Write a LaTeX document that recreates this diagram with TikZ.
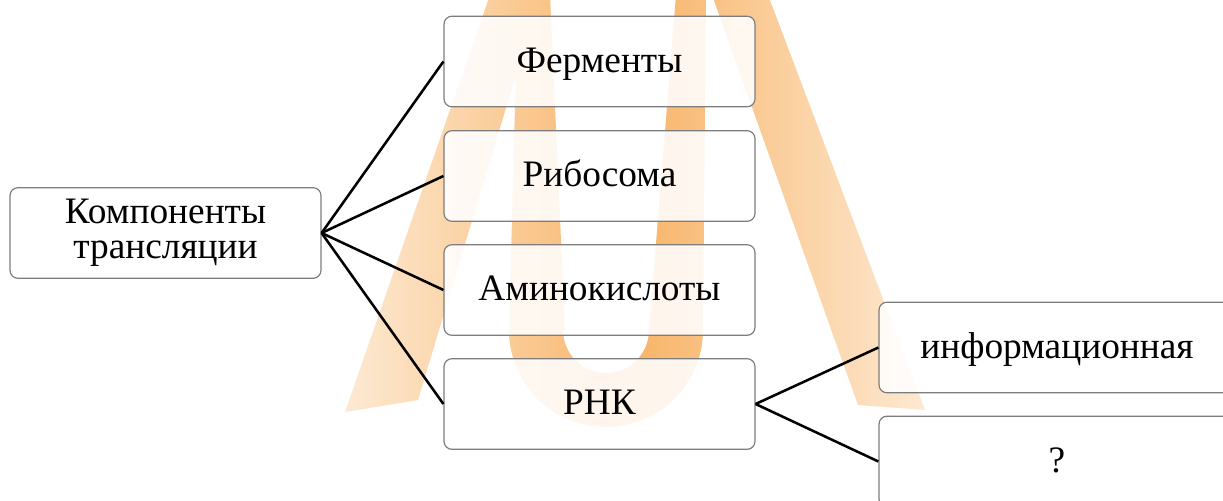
\documentclass[tikz,border=0pt]{standalone}
\usepackage{fontspec}
\setmainfont{Liberation Serif}
\definecolor{boxgray}{RGB}{125,125,125}
\definecolor{mOr}{RGB}{248,180,104}
\definecolor{mPale}{RGB}{253,236,216}
\begin{document}
\begin{tikzpicture}[x=0.75pt,y=-0.75pt,
  box/.style={draw=boxgray, line width=0.9pt, rounded corners=6pt,
    fill=white, fill opacity=0.88, text opacity=1, text=black,
    minimum width=233.25pt, minimum height=68pt, inner sep=0pt,
    align=center, font=\fontsize{28}{26.5}\selectfont},
  oneline/.style={box, text height=17pt, text depth=1pt},
  widebox/.style={oneline, minimum width=267pt},
  link/.style={line width=1.9pt, black}]
\useasboundingbox (0,0) rectangle (1223,500);
\clip (0,0) rectangle (1223,500);
\fill[white] (0,0) rectangle (1223,500);
% watermark
\begin{scope}
\clip (345,412) -- (490,-5) -- (540,-5) -- (418,400) -- cycle
      (518,-5) -- (550,-5) -- (565,330) -- (509,330) -- cycle
      (676,-5) -- (706,-5) -- (703,330) -- (649,330) -- cycle
      (712,-5) -- (768,-5) -- (925,410) -- (858,405) -- cycle
      (703,330) arc[start angle=0,end angle=180,radius=97] -- (563,330)
        arc[start angle=180,end angle=0,radius=43] -- cycle;
\shade[left color=mPale, right color=mPale, middle color=mOr] (330,-10) rectangle (940,440);
\end{scope}
% nodes
\node[box] (comp) at (165.5,233) {Компоненты\\трансляции};
\node[oneline] (fer) at (599.5,61.5) {Ферменты};
\node[oneline] (rib) at (599.5,176) {Рибосома};
\node[oneline] (amino) at (599.5,290) {Аминокислоты};
\node[oneline] (rnk) at (599.5,404) {РНК};
\node[widebox] (info) at (1057,347.5) {информационная};
\node[widebox] (q) at (1057,461.5) {?};
% connectors
\draw[link] (comp.east) -- (fer.west);
\draw[link] (comp.east) -- (rib.west);
\draw[link] (comp.east) -- (amino.west);
\draw[link] (comp.east) -- (rnk.west);
\draw[link] (rnk.east) -- (info.west);
\draw[link] (rnk.east) -- (q.west);
\end{tikzpicture}
\end{document}
